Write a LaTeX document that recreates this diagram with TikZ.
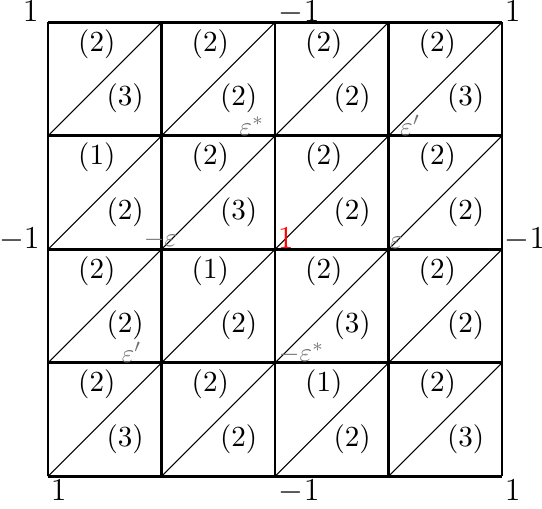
\documentclass[tikz,border=0pt]{standalone}
\begin{document}
\begin{tikzpicture}[x=1.5cm,y=1.5cm,
  cellval/.style={inner sep=0pt,font=\fontsize{10.5}{12}\selectfont},
  corner/.style={inner sep=0pt,font=\large},
  epslbl/.style={inner sep=0pt,text=black!55}]
  \useasboundingbox (-0.423,-0.282) rectangle (4.352,4.196);
  \foreach \c in {0,...,3}
    \foreach \r in {0,...,3}
      \draw[thin] (\c,\r) -- (\c+1,\r+1);
  \draw[line width=1.1pt,step=1.5cm] (0,0) grid (4,4);

  % cell values: column/row/upper/lower
  \foreach \c/\r/\u/\l in {0/3/2/3, 1/3/2/2, 2/3/2/2, 3/3/2/3,
                           0/2/1/2, 1/2/2/3, 2/2/2/2, 3/2/2/2,
                           0/1/2/2, 1/1/1/2, 2/1/2/3, 3/1/2/2,
                           0/0/2/3, 1/0/2/2, 2/0/1/2, 3/0/2/3}{
    \node[cellval] (up\c\r) at (\c+0.43,\r+0.81) {$(\u)$};
    \node[cellval] (lo\c\r) at (\c+0.68,\r+0.33) {$(\l)$};
  }

  \node[corner,anchor=base east] (tl) at (-0.08,4.005) {$1$};
  \node[corner,anchor=base west] (tm) at (2.03,4.005) {$-1$};
  \node[corner,anchor=base west] (tr) at (4.02,4.005) {$1$};
  \node[corner,anchor=base east] (ml) at (-0.07,2.01) {$-1$};
  \node[corner,anchor=base west] (mr) at (4.02,2.01) {$-1$};
  \node[corner,anchor=north west] (bl) at (0.02,-0.03) {$1$};
  \node[corner,anchor=north west] (bm) at (2.03,-0.03) {$-1$};
  \node[corner,anchor=north west] (br) at (4.02,-0.03) {$1$};
  \node[corner,anchor=base west,text=red] (one) at (2.02,2.005) {$1$};

  \node[epslbl,anchor=south east] (epsstar) at (1.91,3) {$\varepsilon^*$};
  \node[epslbl,anchor=south west] (epsprime) at (3.10,3) {$\varepsilon'$};
  \node[epslbl,anchor=base west] (mineps) at (0.84,2.02) {$-\varepsilon$};
  \node[epslbl,anchor=south west] (eps) at (3.01,2) {$\varepsilon$};
  \node[epslbl,anchor=south east] (epsprimeb) at (0.83,1) {$\varepsilon'$};
  \node[epslbl,anchor=base west] (minepsstar) at (2.03,1.01) {$-\varepsilon^*$};
\end{tikzpicture}
\end{document}
